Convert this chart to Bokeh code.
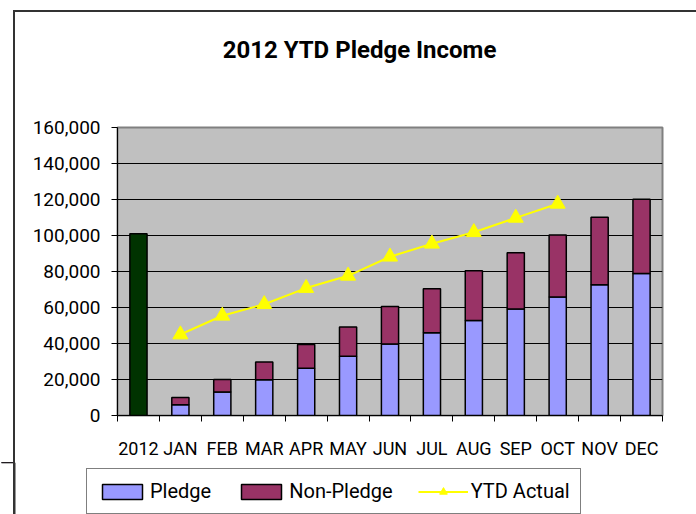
import numpy as np
from bokeh.plotting import figure
from bokeh.layouts import column
from bokeh.models import (Range1d, FixedTicker, NumeralTickFormatter, Legend, LegendItem,
                          ColumnDataSource, InlineStyleSheet, Label, Span)
from bokeh.embed import file_html
from bokeh.resources import INLINE

# ---------------- data ----------------
title_text = "2012 YTD Pledge Income"
categories = ["2012", "JAN", "FEB", "MAR", "APR", "MAY", "JUN",
              "JUL", "AUG", "SEP", "OCT", "NOV", "DEC"]
year_label = "2012"
year_total = [101000]
months = ["JAN", "FEB", "MAR", "APR", "MAY", "JUN",
          "JUL", "AUG", "SEP", "OCT", "NOV", "DEC"]
pledge = [6000, 13000, 19800, 26200, 32900, 39700, 46000, 52800, 59100, 65800, 72600, 78900]
non_pledge = [4000, 7000, 9900, 13300, 16200, 20900, 24400, 27600, 31300, 34500, 37500, 41200]
ytd_months = ["JAN", "FEB", "MAR", "APR", "MAY", "JUN", "JUL", "AUG", "SEP", "OCT"]
ytd_actual = [45000, 55400, 61800, 70800, 77600, 88200, 95400, 101800, 109800, 117600]
y_ticks = [0, 20000, 40000, 60000, 80000, 100000, 120000, 140000, 160000]
series_names = ["Pledge", "Non-Pledge", "YTD Actual"]

FONT = "Roboto"
C_PLEDGE, C_NON, C_YEAR, C_YTD = "#9999FF", "#993366", "#003300", "#FFFF00"
C_BORDER = "#333333"

x_of = {c: i + 0.5 for i, c in enumerate(categories)}

ysrc = ColumnDataSource(dict(x=[x_of[year_label]], top=year_total))
msrc = ColumnDataSource(dict(x=[x_of[m] for m in months], pledge=pledge, non_pledge=non_pledge))
lsrc = ColumnDataSource(dict(x=[x_of[m] for m in ytd_months], y=ytd_actual))


def strip(height):
    """A figure whose frame is the whole canvas (nothing is clipped away)."""
    f = figure(width=696, height=height, output_backend="svg", toolbar_location=None,
               x_axis_type=None, y_axis_type=None, title=None,
               x_range=Range1d(0, 696), y_range=Range1d(height, 0),
               min_border_left=0, min_border_right=0, min_border_top=0, min_border_bottom=0,
               background_fill_color="white", border_fill_color="white",
               outline_line_color=None)
    f.xgrid.grid_line_color = None
    f.ygrid.grid_line_color = None
    return f


def framed(model, height, top_edge):
    css = (":host::after { content: ''; position: absolute; left: 13px; top: %dpx; "
           "width: 683px; height: %dpx; border-left: 2px solid %s; %s "
           "box-sizing: border-box; pointer-events: none; }"
           % (10 if top_edge else 0, height - (10 if top_edge else 0), C_BORDER,
              ("border-top: 2px solid %s;" % C_BORDER) if top_edge else ""))
    c = column(model, spacing=0)
    c.stylesheets = [InlineStyleSheet(css=css)]
    return c


# ---------------- title strip ----------------
tf = strip(80)
tf.add_layout(Label(x=359, y=49, text=title_text, text_align="center",
                    text_baseline="middle", text_font=FONT, text_font_style="bold",
                    text_font_size="24px", text_color="black"))

# ---------------- main chart ----------------
p = figure(width=696, height=382, output_backend="svg", toolbar_location=None, title=None,
           x_range=Range1d(0, len(categories)), y_range=Range1d(y_ticks[0], y_ticks[-1]),
           min_border_left=117, min_border_right=34, min_border_top=47, min_border_bottom=47,
           background_fill_color="#C0C0C0", border_fill_color="white", border_fill_alpha=0,
           outline_line_color="#808080", outline_line_width=2)
# left chart-border line shown through the transparent border area
p.styles = {"background-color": "white",
            "background-image": "linear-gradient(%s, %s)" % (C_BORDER, C_BORDER),
            "background-size": "2px 100%",
            "background-position": "13px 0px",
            "background-repeat": "no-repeat"}

p.vbar(x="x", top="top", width=0.41, source=ysrc, fill_color=C_YEAR,
       line_color="black", line_width=1.5)
p.vbar_stack(["pledge", "non_pledge"], x="x", width=0.41, source=msrc,
             fill_color=[C_PLEDGE, C_NON], line_color="black", line_width=1.5)
p.line("x", "y", source=lsrc, line_color=C_YTD, line_width=2)
p.scatter("x", "y", source=lsrc, marker="triangle", size=15,
          fill_color=C_YTD, line_color=C_YTD)

xa = p.xaxis[0]
xa.ticker = FixedTicker(ticks=[x_of[c] for c in categories],
                        minor_ticks=list(range(len(categories) + 1)))
xa.major_label_overrides = {x_of[c]: c for c in categories}
xa.major_tick_line_color = None
xa.major_tick_out = 6
xa.major_tick_in = 0
xa.minor_tick_line_color = "black"
xa.minor_tick_out = 6
xa.minor_tick_in = 0
xa.axis_line_color = "black"
xa.major_label_text_font = FONT
xa.major_label_text_font_size = "18px"
xa.major_label_text_color = "black"
xa.major_label_standoff = 16

ya = p.yaxis[0]
ya.ticker = FixedTicker(ticks=y_ticks)
ya.formatter = NumeralTickFormatter(format="0,0")
ya.major_tick_out = 6
ya.major_tick_in = 0
ya.minor_tick_line_color = None
ya.major_tick_line_color = "black"
ya.axis_line_color = "black"
ya.major_label_text_font = FONT
ya.major_label_text_font_size = "19px"
ya.major_label_text_color = "black"
ya.major_label_standoff = 11

p.xgrid.grid_line_color = None
p.ygrid.ticker = FixedTicker(ticks=y_ticks)
p.ygrid.grid_line_color = "black"
p.ygrid.grid_line_width = 1

# ---------------- legend strip ----------------
lg = strip(52)
lg.y_range = Range1d(-100, -99)   # keeps the legend's proxy glyphs out of view
lg.add_layout(Span(location=14, dimension="height", line_color=C_BORDER, line_width=2))
lrs = lg.vbar_stack(["pledge", "non_pledge"], x="x", width=0.41, source=msrc,
                    fill_color=[C_PLEDGE, C_NON], line_color="black", line_width=1.5)
lline = lg.line("x", "y", source=lsrc, line_color=C_YTD, line_width=2)
lmark = lg.scatter("x", "y", source=lsrc, marker="triangle", size=15,
                   fill_color=C_YTD, line_color=C_YTD)

legend = Legend(items=[LegendItem(label=series_names[0], renderers=[lrs[0]]),
                       LegendItem(label=series_names[1], renderers=[lrs[1]]),
                       LegendItem(label=series_names[2], renderers=[lline, lmark])],
                orientation="horizontal", location=(86, 0),
                border_line_color="black", border_line_width=1,
                background_fill_color="white", background_fill_alpha=1,
                label_text_font=FONT, label_text_font_size="20px", label_text_color="black",
                glyph_width=50, glyph_height=19, label_standoff=3, spacing=25,
                padding=10, margin=0)
lg.add_layout(legend)

roots = [framed(tf, 80, True), framed(p, 382, False), framed(lg, 52, False)]
open("out.html", "w").write(file_html(roots, INLINE))
